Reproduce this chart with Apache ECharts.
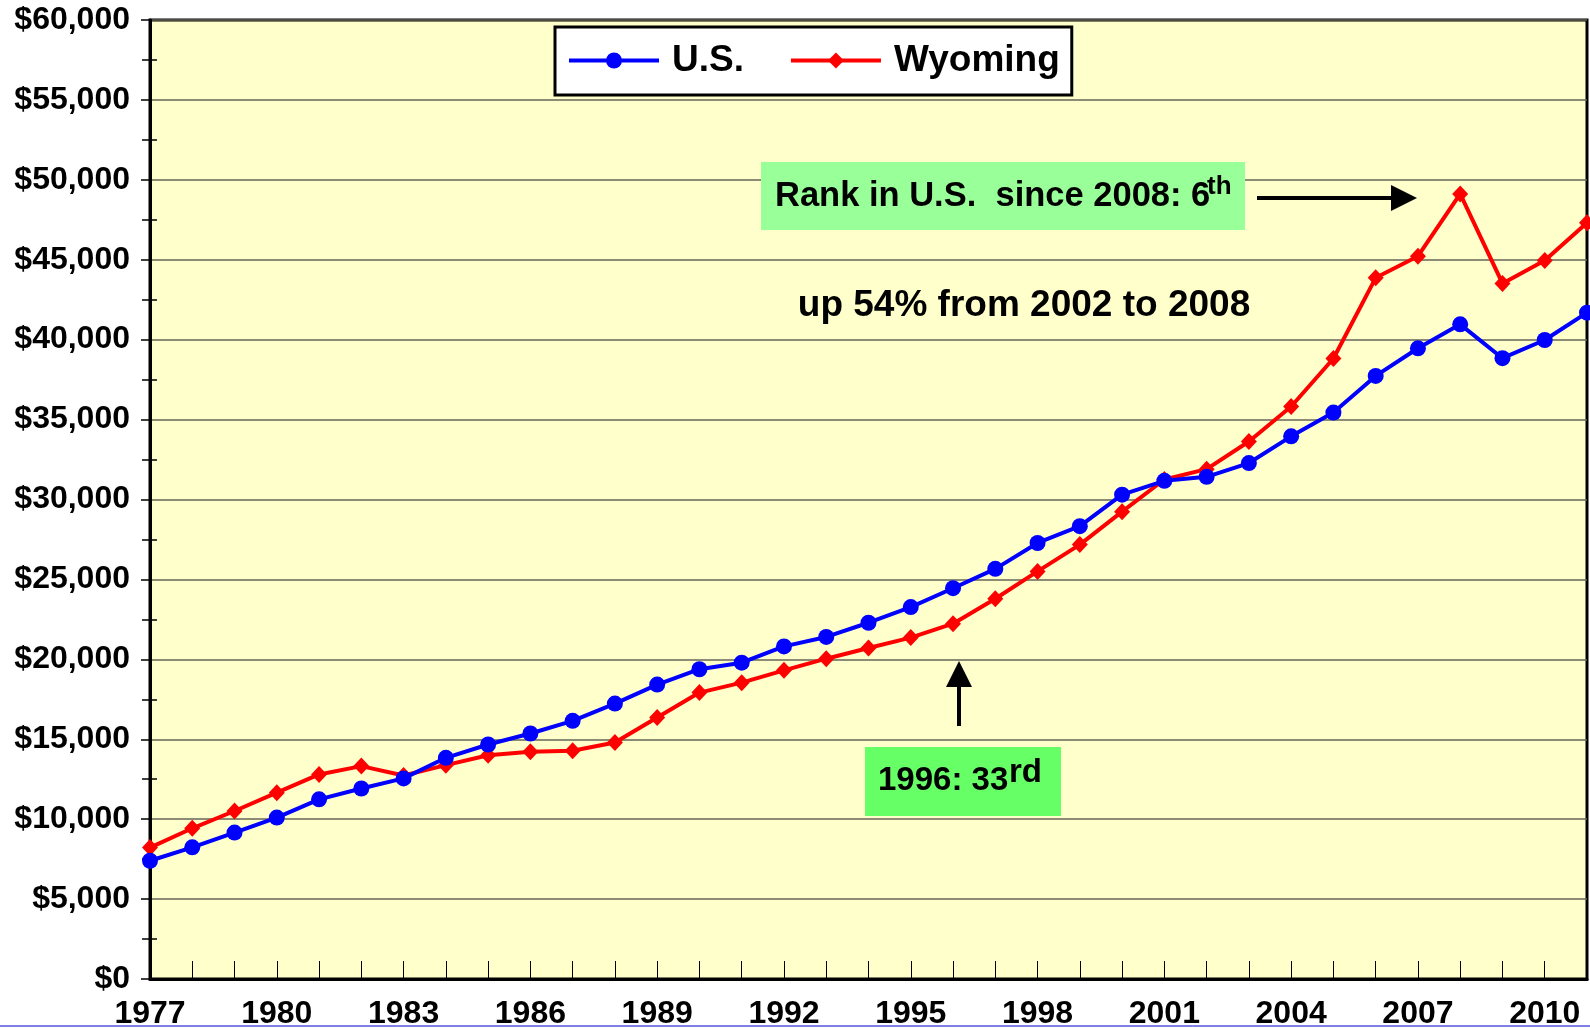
<!DOCTYPE html>
<html>
<head>
<meta charset="utf-8">
<title>Per Capita Personal Income: U.S. and Wyoming</title>
<script src="https://cdn.jsdelivr.net/npm/echarts@6/dist/echarts.min.js"></script>
<style>
  html, body { margin: 0; padding: 0; background: #ffffff; }
  #chart { width: 1590px; height: 1030px; }
</style>
</head>
<body>
<div id="chart"></div>
<script>
// Years shown on the category axis
const years = ['1977','1978','1979','1980','1981','1982','1983','1984','1985','1986',
               '1987','1988','1989','1990','1991','1992','1993','1994','1995','1996',
               '1997','1998','1999','2000','2001','2002','2003','2004','2005','2006',
               '2007','2008','2009','2010','2011'];

// Per capita personal income, U.S. average (dollars)
const usIncome = [7400, 8240, 9160, 10100, 11240, 11920, 12550, 13840, 14670, 15360,
                  16150, 17230, 18420, 19380, 19790, 20810, 21400, 22290, 23270, 24450,
                  25660, 27280, 28330, 30300, 31170, 31420, 32280, 33950, 35440, 37730,
                  39460, 40960, 38840, 39980, 41690];

// Per capita personal income, Wyoming (dollars)
const wyIncome = [8220, 9430, 10510, 11660, 12800, 13320, 12730, 13380, 14000, 14220,
                  14280, 14800, 16360, 17920, 18540, 19310, 20040, 20710, 21360, 22230,
                  23790, 25500, 27180, 29240, 31250, 31900, 33630, 35820, 38820, 43870,
                  45220, 49120, 43520, 44950, 47310];

// Value axis range
const yMin = 0;
const yMax = 60000;
const yStep = 5000;

const FONT = '"Liberation Sans", Arial, Helvetica, sans-serif';

function dollars(v) {
  return '$' + v.toLocaleString('en-US');
}

const chart = echarts.init(document.getElementById('chart'), null, { renderer: 'canvas' });

const option = {
  backgroundColor: '#ffffff',
  animation: false,
  textStyle: { fontFamily: FONT },
  grid: {
    left: 150, right: 3, top: 20, bottom: 49,
    show: true,
    backgroundColor: '#FFFFCC',
    borderColor: '#000000',
    borderWidth: 3
  },
  legend: {
    left: 555, top: 27,
    padding: [15, 12, 16, 12],
    backgroundColor: '#ffffff',
    borderColor: '#000000',
    borderWidth: 3,
    itemWidth: 90,
    itemHeight: 20,
    itemGap: 45,
    lineStyle: { width: 4 },
    textStyle: { fontFamily: FONT, fontSize: 37, fontWeight: 'bold', color: '#000000', padding: [0, 0, 0, 8] },
    data: ['U.S.', 'Wyoming']
  },
  xAxis: {
    type: 'category',
    data: years,
    boundaryGap: false,
    axisLine: { show: true, lineStyle: { color: '#000000', width: 3 } },
    axisTick: { show: true, inside: true, length: 18, interval: 0, lineStyle: { color: '#000000', width: 1 } },
    axisLabel: {
      interval: 2,
      margin: 19,
      fontFamily: FONT, fontSize: 32, fontWeight: 'bold', color: '#000000'
    },
    splitLine: { show: false }
  },
  yAxis: [
    {
      type: 'value',
      min: yMin, max: yMax, interval: yStep,
      axisLine: { show: true, lineStyle: { color: '#000000', width: 3 } },
      axisTick: { show: true, inside: false, length: 9, lineStyle: { color: '#000000', width: 1.5 } },
      minorTick: { show: true, splitNumber: 2, length: 8, lineStyle: { color: '#000000', width: 1.5 } },
      axisLabel: {
        margin: 20,
        fontFamily: FONT, fontSize: 32, fontWeight: 'bold', color: '#000000',
        formatter: dollars
      },
      splitLine: { show: true, lineStyle: { color: '#66665a', width: 1.5 } }
    },
    {
      // inner half of the crossing ticks on the value axis
      type: 'value',
      position: 'left',
      min: yMin, max: yMax, interval: yStep,
      axisLine: { show: false },
      axisTick: { show: false, inside: true },
      minorTick: { show: true, splitNumber: 2, length: 7, lineStyle: { color: '#000000', width: 1.5 } },
      axisLabel: { show: false },
      splitLine: { show: false }
    }
  ],
  series: [
    {
      name: 'U.S.',
      type: 'line',
      data: usIncome,
      z: 4,
      symbol: 'circle',
      symbolSize: 16,
      lineStyle: { color: '#0000FF', width: 4 },
      itemStyle: { color: '#0000FF' }
    },
    {
      name: 'Wyoming',
      type: 'line',
      data: wyIncome,
      z: 3,
      symbol: 'diamond',
      symbolSize: [16, 17],
      lineStyle: { color: '#FF0000', width: 4 },
      itemStyle: { color: '#FF0000' }
    }
  ],
  graphic: [
    // Rank callout
    { type: 'rect', shape: { x: 761, y: 162, width: 484, height: 68 }, style: { fill: '#99FF99' }, z: 10 },
    { type: 'text', x: 775, y: 196, z: 11,
      style: { text: 'Rank in U.S.  since 2008: 6', font: 'bold 34.5px ' + FONT, fill: '#000000', verticalAlign: 'middle', align: 'left' } },
    { type: 'text', x: 1207, y: 187, z: 11,
      style: { text: 'th', font: 'bold 26px ' + FONT, fill: '#000000', verticalAlign: 'middle', align: 'left' } },
    // arrow pointing right toward the 2008 peak
    { type: 'line', shape: { x1: 1257, y1: 198, x2: 1393, y2: 198 }, style: { stroke: '#000000', lineWidth: 4 }, z: 11 },
    { type: 'polygon', shape: { points: [[1391, 185], [1417, 198], [1391, 211]] }, style: { fill: '#000000' }, z: 11 },

    // growth note
    { type: 'text', x: 1024, y: 306, z: 11,
      style: { text: 'up 54% from 2002 to 2008', font: 'bold 37px ' + FONT, fill: '#000000', verticalAlign: 'middle', align: 'center' } },

    // 1996 rank callout
    { type: 'rect', shape: { x: 865, y: 747, width: 196, height: 69 }, style: { fill: '#66FF66' }, z: 10 },
    { type: 'text', x: 878, y: 781, z: 11,
      style: { text: '1996: 33', font: 'bold 33px ' + FONT, fill: '#000000', verticalAlign: 'middle', align: 'left' } },
    { type: 'text', x: 1009, y: 773, z: 11,
      style: { text: 'rd', font: 'bold 33px ' + FONT, fill: '#000000', verticalAlign: 'middle', align: 'left' } },
    // arrow pointing up at 1996
    { type: 'line', shape: { x1: 959, y1: 726, x2: 959, y2: 684 }, style: { stroke: '#000000', lineWidth: 4 }, z: 11 },
    { type: 'polygon', shape: { points: [[946, 687], [959, 661], [972, 687]] }, style: { fill: '#000000' }, z: 11 },

    // thin blue rule along the bottom edge
    { type: 'line', shape: { x1: 0, y1: 1026, x2: 1590, y2: 1026 }, style: { stroke: '#0000CC', lineWidth: 1 }, z: 12 }
  ]
};

chart.setOption(option);
</script>
</body>
</html>
